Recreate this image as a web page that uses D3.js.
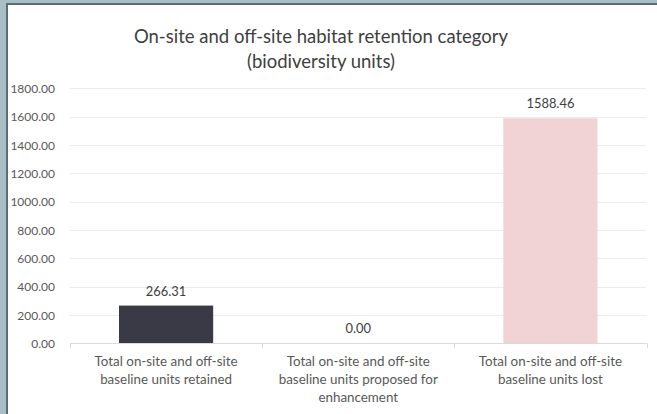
<!DOCTYPE html>
<html><head><meta charset="utf-8">
<script src="https://cdn.jsdelivr.net/npm/d3@7"></script>
<style>
html,body{margin:0;padding:0;background:#a9bfc6;}
svg{display:block;}
</style></head>
<body>
<svg id="chart" width="657" height="414"></svg>
<script>
const categories = [
  ["Total on-site and off-site", "baseline units retained"],
  ["Total on-site and off-site", "baseline units proposed for", "enhancement"],
  ["Total on-site and off-site", "baseline units lost"]
];
const values = [266.31, 0.00, 1588.46];
const barColors = ["#3a3946", "#3a3946", "#f2d3d5"];
const yTicks = [0, 200, 400, 600, 800, 1000, 1200, 1400, 1600, 1800];
const titleLines = ["On-site and off-site habitat retention category", "(biodiversity units)"];

(function () {
const svg = d3.select("#chart");
const font = "Lato, 'Open Sans', sans-serif";

// frame
svg.append("rect").attr("x", 0).attr("y", 0).attr("width", 657).attr("height", 414).attr("fill", "#a9bfc6");
svg.append("rect").attr("x", 6).attr("y", 3).attr("width", 651).attr("height", 411).attr("fill", "#5d6d73");
svg.append("rect").attr("x", 8).attr("y", 5).attr("width", 649).attr("height", 409).attr("fill", "#ffffff");

const pLeft = 70, pRight = 646.5, pTop = 88.3, pBottom = 343.3;
const x = d3.scaleBand().domain(d3.range(categories.length)).range([pLeft, pRight]).paddingInner(0.51).paddingOuter(0.255);
const xb = d3.scaleBand().domain(d3.range(categories.length)).range([pLeft, pRight]);
const y = d3.scaleLinear().domain([0, 1800]).range([pBottom, pTop]);

// gridlines
svg.append("g").selectAll("line").data(yTicks.filter(d => d > 0)).join("line")
  .attr("x1", pLeft).attr("x2", pRight)
  .attr("y1", d => Math.round(y(d)) + 0.5).attr("y2", d => Math.round(y(d)) + 0.5)
  .attr("stroke", "#ececec").attr("stroke-width", 1);

// y axis labels
const yAxis = d3.axisLeft(y).tickValues(yTicks).tickFormat(d3.format(".2f")).tickSize(0).tickPadding(0);
const ya = svg.append("g").attr("transform", `translate(55,0)`).call(yAxis);
ya.select(".domain").remove();
ya.selectAll("text").attr("font-family", font).attr("font-size", 12).attr("fill", "#595959").attr("dy", "0.35em");

// bars
svg.append("g").selectAll("rect").data(values).join("rect")
  .attr("x", (d, i) => x(i)).attr("width", x.bandwidth())
  .attr("y", d => y(d)).attr("height", d => y(0) - y(d))
  .attr("fill", (d, i) => barColors[i]);

// x axis
const xAxis = d3.axisBottom(xb).tickSize(0).tickFormat("");
const xa = svg.append("g").attr("transform", `translate(0,${Math.round(pBottom) + 0.5})`).call(xAxis);
xa.select(".domain").attr("stroke", "#dadada").attr("d", `M${pLeft},0H${pRight}`);
// category separators
svg.append("g").selectAll("line").data(d3.range(categories.length + 1)).join("line")
  .attr("x1", i => Math.round(pLeft + i * xb.step()) + 0.5).attr("x2", i => Math.round(pLeft + i * xb.step()) + 0.5)
  .attr("y1", Math.round(pBottom)).attr("y2", Math.round(pBottom) + 5)
  .attr("stroke", "#dadada");

// x labels
const lab = svg.append("g").selectAll("text").data(categories).join("text")
  .attr("font-family", font).attr("font-size", 13.4).attr("fill", "#595959").attr("text-anchor", "middle");
lab.each(function(lines, i) {
  const t = d3.select(this);
  lines.forEach((l, k) => {
    t.append("tspan").attr("x", xb(i) + xb.bandwidth() / 2).attr("y", 365.5 + k * 18).text(l);
  });
});

// data labels
svg.append("g").selectAll("text").data(values).join("text")
  .attr("x", (d, i) => x(i) + x.bandwidth() / 2)
  .attr("y", d => y(d) - 10)
  .attr("text-anchor", "middle").attr("font-family", font).attr("font-size", 12.9).attr("fill", "#404040")
  .text(d => d3.format(".2f")(d));

// title
svg.append("g").selectAll("text").data(titleLines).join("text")
  .attr("x", 321).attr("y", (d, i) => 43 + i * 24.5)
  .attr("text-anchor", "middle").attr("font-family", font).attr("font-size", 18.5).attr("fill", "#404040")
  .text(d => d);
})();
</script>
</body></html>
